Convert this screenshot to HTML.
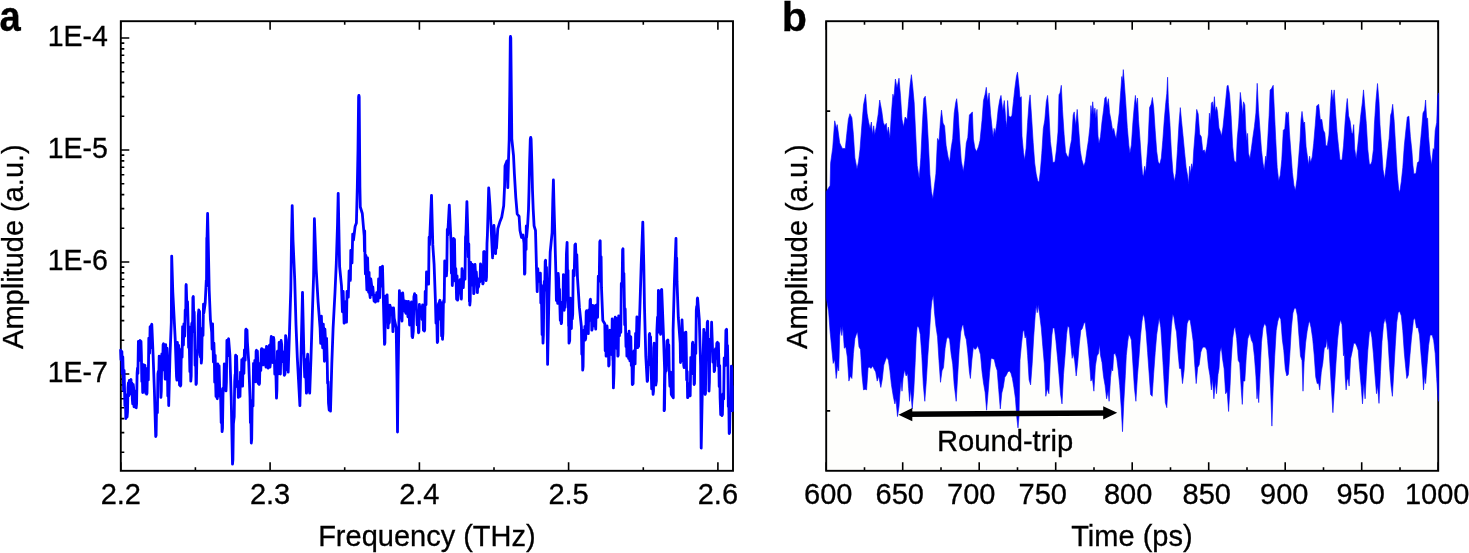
<!DOCTYPE html>
<html lang="en"><head><meta charset="utf-8"><title>Figure: spectrum and time trace</title>
<style>html,body{margin:0;padding:0;background:#fff;}body{width:1469px;height:553px;overflow:hidden;}svg{display:block;}text{font-family:"Liberation Sans", sans-serif;fill:#000;stroke:#000;stroke-width:0.3px;}</style>
</head><body>
<svg width="1469" height="553" viewBox="0 0 1469 553">
<rect x="0" y="0" width="1469" height="553" fill="#ffffff"/>
<g id="panel-a">
<rect x="120.8" y="21.2" width="612.2" height="449.6" fill="none" stroke="#000" stroke-width="1.9"/>
<path d="M120.8 470.8 v-8.5 M120.8 21.2 v8.5 M195.4 470.8 v-3.5 M195.4 21.2 v3.5 M270.1 470.8 v-8.5 M270.1 21.2 v8.5 M344.7 470.8 v-3.5 M344.7 21.2 v3.5 M419.4 470.8 v-8.5 M419.4 21.2 v8.5 M494.0 470.8 v-3.5 M494.0 21.2 v3.5 M568.6 470.8 v-8.5 M568.6 21.2 v8.5 M643.3 470.8 v-3.5 M643.3 21.2 v3.5 M717.9 470.8 v-8.5 M717.9 21.2 v8.5 M120.8 452.3 h3.5 M120.8 432.6 h3.5 M120.8 418.6 h3.5 M120.8 407.7 h3.5 M120.8 398.8 h3.5 M120.8 391.3 h3.5 M120.8 384.9 h3.5 M120.8 379.1 h3.5 M120.8 374.0 h8.5 M120.8 340.3 h3.5 M120.8 320.6 h3.5 M120.8 306.6 h3.5 M120.8 295.7 h3.5 M120.8 286.8 h3.5 M120.8 279.3 h3.5 M120.8 272.9 h3.5 M120.8 267.1 h3.5 M120.8 262.0 h8.5 M120.8 228.3 h3.5 M120.8 208.6 h3.5 M120.8 194.6 h3.5 M120.8 183.7 h3.5 M120.8 174.8 h3.5 M120.8 167.3 h3.5 M120.8 160.9 h3.5 M120.8 155.1 h3.5 M120.8 150.0 h8.5 M120.8 116.3 h3.5 M120.8 96.6 h3.5 M120.8 82.6 h3.5 M120.8 71.7 h3.5 M120.8 62.8 h3.5 M120.8 55.3 h3.5 M120.8 48.9 h3.5 M120.8 43.1 h3.5 M120.8 38.0 h8.5" fill="none" stroke="#000" stroke-width="1.6"/>
<path d="M120.6 350.2 L121.0 359.6 L121.5 351.2 L121.9 351.8 L122.3 373.6 L122.8 356.9 L123.2 371.4 L123.6 390.6 L124.1 370.5 L124.5 387.7 L124.9 405.6 L125.4 394.6 L125.8 418.6 L126.2 417.6 L126.7 405.0 L127.1 417.0 L127.5 412.2 L128.0 387.7 L128.4 382.8 L128.8 395.8 L129.3 380.5 L129.7 390.9 L130.1 393.9 L130.6 380.5 L131.0 379.5 L131.4 393.2 L131.9 383.1 L132.3 399.0 L132.7 403.9 L133.2 384.3 L133.6 387.7 L134.0 406.8 L134.5 391.0 L134.9 402.3 L135.3 406.8 L135.8 395.3 L136.2 407.8 L136.6 403.5 L137.1 373.2 L137.5 368.1 L137.9 373.6 L138.4 341.5 L138.8 351.8 L139.2 357.3 L139.7 341.5 L140.1 340.5 L140.5 360.5 L141.0 341.5 L141.4 355.1 L141.8 381.4 L142.3 372.0 L142.7 392.5 L143.1 391.1 L143.6 364.7 L144.0 364.9 L144.4 383.3 L144.9 365.3 L145.3 381.1 L145.7 393.2 L146.2 375.3 L146.6 394.2 L147.0 393.2 L147.5 368.4 L147.9 371.4 L148.3 379.9 L148.8 338.2 L149.2 345.3 L149.6 353.2 L150.1 326.7 L150.5 338.8 L150.9 347.7 L151.4 325.2 L151.8 324.2 L153.1 355.1 L154.4 390.9 L155.7 436.5 L156.1 435.5 L156.6 404.3 L157.0 403.9 L157.4 412.7 L157.9 374.0 L158.3 371.4 L158.7 378.9 L159.2 356.1 L159.6 356.7 L160.0 379.0 L160.5 370.3 L160.9 397.4 L161.3 390.9 L161.8 354.0 L162.2 355.1 L162.6 368.1 L163.1 344.7 L163.5 343.7 L163.9 369.9 L164.4 348.8 L164.8 368.1 L165.2 379.2 L165.7 344.7 L166.1 353.5 L166.5 371.7 L167.0 348.2 L167.4 364.9 L167.8 396.1 L168.3 372.7 L168.7 405.6 L170.0 355.1 L171.3 322.6 L171.7 256.1 L172.8 292.0 L175.2 338.8 L176.5 376.3 L176.9 380.2 L177.4 342.5 L177.8 348.6 L178.2 362.7 L178.7 345.5 L179.1 368.1 L179.5 385.0 L180.0 360.2 L180.4 386.0 L180.8 385.0 L181.3 350.7 L181.7 348.6 L182.1 357.3 L182.6 326.6 L183.0 338.8 L183.4 345.0 L183.9 323.8 L184.3 335.6 L184.7 336.1 L185.2 309.9 L185.6 309.5 L185.8 308.9 L186.0 285.5 L186.2 284.5 L186.9 306.7 L187.5 301.6 L188.2 325.8 L188.6 347.4 L189.1 327.0 L189.5 355.1 L189.9 371.6 L190.4 359.5 L190.8 381.1 L191.2 375.8 L191.7 324.2 L192.1 322.6 L192.5 331.5 L192.9 297.5 L193.3 296.5 L193.8 321.0 L194.2 312.1 L194.7 338.8 L195.1 365.4 L195.6 350.6 L196.0 384.4 L196.4 383.4 L196.9 356.2 L197.3 355.1 L197.8 349.4 L198.3 315.4 L198.8 310.0 L199.2 327.3 L199.6 311.5 L200.0 332.3 L200.4 357.0 L200.9 342.4 L201.3 363.2 L201.7 358.9 L202.2 328.4 L202.6 329.1 L203.0 335.4 L203.5 304.1 L203.9 312.8 L205.2 303.0 L206.3 280.0 L206.5 286.0 L206.8 237.8 L207.0 240.0 L207.6 213.5 L208.3 245.0 L209.2 290.0 L210.4 319.3 L211.7 332.3 L212.1 349.1 L212.6 323.9 L213.0 342.1 L213.4 362.0 L213.9 343.1 L214.3 355.1 L214.7 382.2 L215.2 355.3 L215.6 381.1 L216.0 396.4 L216.5 374.7 L216.9 397.4 L217.3 398.7 L217.8 363.9 L218.2 364.9 L218.6 378.5 L219.1 365.9 L219.5 381.1 L219.9 396.4 L220.4 388.4 L220.8 403.9 L221.2 422.7 L221.7 413.2 L222.1 431.6 L222.5 428.4 L223.0 395.0 L223.4 387.7 L223.8 387.1 L224.3 363.8 L224.7 364.9 L225.1 381.7 L225.6 370.5 L226.0 390.9 L226.4 382.1 L226.9 340.5 L227.3 342.1 L227.7 355.8 L228.2 339.8 L228.6 338.8 L229.9 355.1 L231.2 397.4 L232.5 464.2 L232.9 459.9 L233.4 423.8 L233.8 420.2 L234.2 416.8 L234.7 381.6 L235.1 374.6 L235.3 386.0 L235.5 356.1 L235.7 355.1 L236.1 373.4 L236.6 356.1 L237.0 371.4 L237.4 387.2 L237.9 381.2 L238.3 397.4 L238.7 396.4 L239.2 381.7 L239.6 387.7 L240.0 396.4 L240.5 372.2 L240.9 374.6 L241.3 382.2 L241.8 359.6 L242.2 377.9 L242.6 386.2 L243.1 358.3 L243.5 361.6 L243.9 373.4 L244.4 350.0 L244.8 355.1 L245.2 360.2 L245.7 330.1 L246.1 329.1 L246.5 351.4 L247.0 330.1 L247.4 342.1 L248.7 361.6 L250.0 397.4 L250.4 422.7 L250.9 415.8 L251.3 443.0 L251.7 439.2 L252.2 400.3 L252.6 403.9 L253.0 405.9 L253.5 363.3 L253.9 368.1 L254.3 380.4 L254.8 360.5 L255.2 371.4 L255.6 381.8 L256.1 351.2 L256.5 350.2 L256.9 368.0 L257.4 351.2 L257.8 364.9 L258.2 383.4 L258.7 365.3 L259.1 384.4 L259.5 383.4 L260.0 363.3 L260.4 368.1 L260.8 370.4 L261.3 349.7 L261.7 348.6 L262.1 359.5 L262.6 351.4 L263.0 364.9 L263.4 364.3 L263.9 349.6 L264.3 350.2 L264.7 363.0 L265.2 354.7 L265.6 364.9 L266.0 367.1 L266.5 346.3 L266.9 348.6 L267.3 364.3 L267.8 355.8 L268.2 368.1 L268.6 367.1 L269.1 346.4 L269.5 345.3 L270.0 367.2 L270.4 363.4 L270.9 340.4 L271.3 336.3 L271.7 355.0 L272.2 337.3 L272.6 347.7 L273.0 362.7 L273.5 337.3 L273.9 339.5 L274.8 374.2 L275.6 361.0 L276.5 398.1 L276.9 390.5 L277.4 351.5 L277.8 350.9 L278.5 373.8 L279.1 342.5 L279.8 363.9 L280.4 374.0 L281.1 340.5 L281.7 344.4 L282.6 361.6 L283.4 351.8 L284.3 375.3 L285.0 373.9 L285.6 335.6 L286.3 339.5 L286.9 369.7 L287.6 349.0 L288.2 372.1 L289.5 331.4 L290.8 289.1 L291.5 240.0 L292.2 205.6 L293.0 240.0 L294.7 279.3 L296.0 324.9 L297.3 357.4 L299.9 405.6 L301.2 347.7 L302.5 292.3 L303.8 350.9 L304.7 377.0 L305.5 359.7 L306.4 393.2 L306.8 392.2 L307.3 358.3 L307.7 354.2 L308.4 375.6 L309.0 371.1 L309.7 393.2 L311.0 357.4 L312.3 315.1 L313.6 276.0 L314.4 218.7 L316.2 269.5 L318.1 302.1 L320.1 328.1 L320.7 343.4 L321.4 316.2 L322.0 336.3 L322.7 347.8 L323.3 324.1 L324.0 344.4 L324.4 361.3 L324.9 329.1 L325.3 336.3 L325.9 355.8 L326.6 338.4 L327.2 360.7 L327.6 383.3 L328.1 381.5 L328.5 403.0 L329.2 410.1 L329.8 393.1 L330.5 411.1 L331.8 363.9 L333.1 328.1 L335.0 292.3 L336.3 263.0 L337.5 225.0 L338.2 193.3 L338.9 230.0 L339.6 266.3 L341.5 285.8 L342.4 311.8 L343.2 291.5 L344.1 323.2 L344.8 322.2 L345.4 301.9 L346.1 318.4 L346.5 322.2 L347.0 291.5 L347.4 292.3 L348.3 297.1 L349.1 270.8 L350.0 276.0 L350.4 280.4 L350.8 250.3 L351.2 259.0 L352.0 263.0 L352.7 234.1 L353.5 240.0 L355.1 226.5 L356.4 223.0 L357.3 187.4 L358.0 150.0 L358.6 97.0 L358.9 95.3 L359.2 97.0 L359.6 150.0 L359.9 187.0 L360.3 207.0 L362.3 213.5 L364.2 236.0 L364.5 251.4 L364.7 230.9 L365.0 256.5 L365.4 273.9 L365.9 255.5 L366.3 274.4 L366.9 289.9 L367.6 258.0 L368.2 277.7 L368.6 292.3 L369.1 272.5 L369.5 292.3 L370.2 297.5 L370.8 278.9 L371.5 284.2 L372.1 294.5 L372.8 286.9 L373.4 293.9 L374.1 301.1 L374.7 295.5 L375.4 302.1 L376.0 301.1 L376.7 292.7 L377.3 300.5 L378.0 301.1 L378.6 278.8 L379.3 282.6 L379.7 297.8 L380.2 267.3 L380.6 279.3 L381.2 286.1 L381.9 267.3 L382.5 266.3 L384.5 344.4 L384.9 342.9 L385.4 296.2 L385.8 297.2 L386.4 311.4 L387.1 294.9 L387.7 315.1 L388.1 327.9 L388.6 310.0 L389.0 323.2 L389.4 322.2 L389.9 305.1 L390.3 307.0 L391.0 314.4 L391.6 308.0 L392.3 310.2 L392.9 331.6 L393.6 308.0 L394.2 318.4 L396.2 328.1 L397.0 380.0 L397.5 432.0 L398.0 380.0 L398.8 328.1 L399.4 290.7 L400.1 313.6 L400.7 293.4 L401.4 315.1 L402.0 321.0 L402.7 292.9 L403.3 300.5 L404.0 310.8 L404.6 300.8 L405.3 311.8 L405.9 313.2 L406.6 301.5 L407.2 303.7 L407.9 316.8 L408.5 301.5 L409.2 315.1 L409.6 325.0 L410.1 304.7 L410.5 303.7 L410.9 324.9 L411.4 302.0 L411.8 328.1 L412.1 336.6 L412.3 326.3 L412.6 337.6 L413.3 331.0 L413.9 296.9 L414.6 293.7 L415.2 306.4 L415.9 295.1 L416.5 310.0 L417.2 324.9 L417.8 310.6 L418.5 332.8 L418.9 331.8 L419.4 304.5 L419.8 313.2 L420.4 316.0 L421.1 307.7 L421.7 306.7 L422.1 319.5 L422.6 304.9 L423.0 313.2 L423.4 330.1 L423.9 305.6 L424.3 331.1 L424.7 330.1 L425.2 291.5 L425.6 300.2 L426.0 304.7 L426.5 272.0 L426.9 277.4 L428.2 274.2 L428.6 284.2 L429.1 237.2 L429.5 244.9 L431.5 195.4 L432.8 244.9 L434.1 264.4 L435.4 300.2 L436.0 323.2 L436.7 315.6 L437.3 342.5 L437.7 341.5 L438.2 305.5 L438.6 303.5 L439.0 310.9 L439.5 301.2 L439.9 300.2 L440.3 319.0 L440.8 302.3 L441.2 313.2 L441.6 335.9 L442.1 317.8 L442.5 339.3 L442.9 333.6 L443.4 302.3 L443.8 300.2 L444.2 302.3 L444.7 260.9 L445.1 261.1 L446.4 275.8 L446.8 270.1 L447.3 229.3 L447.7 235.1 L449.3 205.2 L451.0 241.6 L451.4 273.2 L451.9 251.2 L452.3 285.6 L452.7 278.3 L453.2 244.1 L453.6 238.4 L454.0 254.4 L454.5 239.4 L454.9 264.4 L455.3 281.2 L455.8 268.7 L456.2 283.9 L456.6 299.2 L457.1 276.0 L457.5 300.2 L457.9 299.2 L458.4 280.6 L458.8 282.3 L459.4 289.8 L460.1 279.7 L460.7 292.1 L461.4 299.2 L462.0 268.6 L462.7 280.7 L463.3 287.7 L464.0 270.9 L464.6 277.4 L465.0 279.2 L465.5 237.1 L465.9 235.1 L466.9 201.6 L467.9 235.1 L468.3 256.9 L468.8 244.0 L469.2 277.4 L469.4 301.6 L469.6 278.4 L469.8 305.1 L470.2 300.8 L470.7 262.5 L471.1 267.7 L471.5 273.3 L472.0 265.4 L472.4 264.4 L472.8 285.1 L473.3 274.0 L473.7 293.7 L474.1 292.7 L474.6 265.4 L475.0 264.4 L475.7 277.3 L476.3 271.9 L477.0 283.9 L477.4 292.7 L477.9 279.9 L478.3 287.2 L478.7 286.2 L479.2 278.6 L479.6 280.7 L480.0 281.6 L480.5 263.8 L480.9 266.0 L481.5 280.2 L482.2 269.6 L482.8 283.9 L483.2 282.9 L483.7 251.8 L484.1 251.4 L484.8 274.4 L485.4 261.5 L486.1 280.7 L486.5 277.0 L487.0 243.4 L487.4 235.1 L488.7 187.9 L490.0 205.8 L491.3 231.8 L492.6 257.9 L493.9 225.3 L495.2 244.9 L495.6 253.7 L496.1 241.6 L496.5 248.1 L497.8 228.6 L499.8 222.1 L501.7 217.2 L503.7 205.8 L504.6 185.8 L505.0 166.0 L506.9 161.0 L507.8 187.7 L508.5 160.0 L509.2 139.0 L509.8 90.0 L510.3 38.0 L510.5 36.4 L510.8 38.0 L511.3 90.0 L511.8 139.0 L513.5 155.3 L514.4 174.0 L515.8 197.6 L517.2 214.0 L519.1 216.4 L520.0 230.5 L521.5 237.5 L523.0 235.0 L524.0 243.0 L524.5 274.2 L524.9 273.2 L525.4 238.7 L525.8 241.6 L526.1 249.6 L526.3 225.9 L526.6 237.5 L527.6 225.8 L528.5 209.3 L529.0 190.5 L529.6 162.3 L530.3 139.0 L530.7 137.3 L531.1 139.0 L531.9 165.0 L532.5 190.5 L533.2 209.3 L534.1 225.8 L535.5 230.5 L536.5 268.4 L537.2 291.6 L537.8 268.7 L538.5 281.4 L540.4 273.2 L540.8 303.0 L541.3 285.5 L541.7 310.7 L542.1 334.7 L542.6 314.5 L543.0 343.2 L543.4 334.8 L543.9 289.0 L544.3 281.4 L544.7 290.2 L545.2 261.2 L545.6 260.2 L546.0 283.9 L546.5 267.3 L546.9 297.7 L547.6 364.4 L548.9 297.7 L550.2 252.1 L552.1 232.6 L552.8 200.0 L553.4 180.0 L554.0 205.0 L554.7 229.3 L556.0 278.1 L556.4 300.6 L556.9 275.9 L557.3 297.7 L557.7 303.4 L558.2 273.4 L558.6 278.1 L559.0 295.1 L559.5 289.1 L559.9 307.4 L560.3 320.4 L560.8 302.2 L561.2 323.7 L561.6 322.7 L562.1 304.2 L562.5 307.4 L562.9 307.9 L563.4 274.6 L563.8 284.6 L564.2 310.3 L564.7 284.1 L565.1 307.4 L565.8 296.5 L566.4 254.4 L567.1 242.3 L567.5 273.4 L568.0 270.3 L568.4 304.2 L568.6 326.0 L568.8 317.3 L569.0 343.2 L569.7 340.6 L570.3 298.2 L571.0 304.2 L571.4 328.5 L571.9 299.9 L572.3 318.8 L572.7 314.4 L573.2 270.5 L573.6 274.9 L574.2 275.6 L574.9 244.9 L575.5 243.9 L576.2 262.1 L576.8 254.6 L577.5 278.1 L579.4 307.4 L581.4 327.0 L581.8 354.3 L582.3 342.1 L582.7 370.2 L583.1 366.5 L583.6 330.4 L584.0 330.2 L584.4 340.4 L584.9 326.3 L585.3 340.0 L585.7 338.4 L586.2 311.7 L586.6 310.7 L587.0 323.6 L587.5 317.3 L587.9 330.2 L588.3 333.7 L588.8 309.8 L589.2 312.3 L589.6 317.5 L590.1 300.3 L590.5 299.3 L590.9 320.4 L591.4 309.6 L591.8 330.2 L592.2 329.2 L592.7 305.4 L593.1 310.7 L593.7 325.8 L594.4 306.0 L595.0 320.4 L595.7 329.2 L596.3 305.1 L597.0 310.7 L597.6 317.3 L598.3 276.2 L598.9 281.4 L599.3 275.5 L599.8 241.7 L600.2 240.7 L600.6 274.7 L601.1 256.8 L601.5 287.9 L602.8 320.4 L604.8 323.7 L605.2 350.8 L605.7 327.8 L606.1 356.2 L606.5 356.1 L607.0 325.8 L607.4 330.2 L607.8 354.1 L608.3 338.0 L608.7 366.0 L609.1 365.0 L609.6 331.2 L610.0 330.2 L610.4 348.9 L610.9 331.2 L611.3 343.2 L611.7 354.6 L612.2 318.8 L612.6 330.2 L612.9 359.1 L613.1 361.0 L613.4 387.9 L614.0 373.2 L614.6 329.7 L615.2 317.2 L615.6 327.6 L616.1 318.2 L616.5 323.7 L616.9 348.5 L617.4 330.1 L617.8 356.2 L618.2 355.2 L618.7 315.8 L619.1 318.8 L619.5 335.8 L620.0 319.4 L620.4 330.2 L620.8 332.3 L621.3 283.5 L621.7 284.6 L622.1 286.2 L622.6 249.8 L623.0 248.8 L623.4 280.4 L623.9 273.3 L624.3 297.7 L624.7 324.8 L625.2 309.0 L625.6 330.2 L626.0 346.7 L626.5 337.0 L626.9 356.2 L627.3 355.2 L627.8 333.8 L628.2 336.7 L628.6 358.5 L629.1 331.2 L629.5 353.0 L629.9 360.9 L630.4 337.7 L630.8 336.7 L631.3 365.6 L631.8 352.6 L632.3 384.6 L633.1 383.6 L633.9 351.0 L634.7 356.2 L635.1 363.9 L635.6 333.3 L636.0 333.5 L636.4 339.1 L636.9 316.8 L637.3 323.7 L637.7 347.7 L638.2 327.9 L638.6 346.5 L639.9 307.4 L641.2 265.1 L642.8 222.1 L643.8 265.1 L644.5 307.4 L645.8 356.2 L647.2 381.4 L647.6 380.4 L648.1 363.6 L648.5 365.1 L648.9 362.4 L649.3 334.5 L649.7 333.5 L650.1 358.7 L650.6 337.0 L651.0 362.8 L651.7 388.9 L652.4 373.0 L653.1 394.4 L653.5 391.1 L653.8 347.7 L654.2 343.2 L654.7 369.9 L655.3 362.3 L655.8 385.0 L656.4 381.1 L656.9 330.8 L657.5 317.2 L657.9 332.4 L658.4 290.5 L658.8 304.2 L659.2 319.9 L659.7 308.5 L660.1 330.2 L660.6 334.3 L661.2 290.5 L661.7 289.5 L663.3 330.2 L664.6 369.3 L664.1 410.7 L664.5 409.7 L665.0 374.5 L665.4 371.6 L666.2 370.8 L667.0 341.0 L667.9 340.0 L668.3 359.3 L668.8 344.9 L669.2 369.3 L669.9 386.3 L670.6 372.2 L671.3 394.4 L673.3 397.7 L673.1 330.2 L674.4 281.4 L676.0 238.4 L676.3 271.8 L676.7 258.1 L677.0 281.4 L678.3 317.2 L680.2 343.2 L680.5 362.5 L680.8 333.4 L681.1 348.8 L681.5 360.7 L682.0 319.9 L682.4 329.3 L682.8 348.6 L683.3 338.9 L683.7 365.1 L684.1 367.6 L684.6 336.4 L685.0 332.6 L685.4 346.0 L685.9 332.2 L686.3 352.1 L686.7 379.9 L687.2 371.4 L687.6 397.7 L688.2 396.7 L688.9 384.2 L689.5 394.4 L690.2 395.7 L690.8 357.3 L691.5 365.1 L691.9 364.5 L692.4 343.3 L692.8 342.3 L693.2 374.0 L693.7 361.7 L694.1 384.6 L694.5 383.6 L695.0 344.9 L695.4 348.8 L695.8 353.4 L696.3 310.2 L696.7 306.5 L697.0 315.4 L697.3 299.0 L697.6 298.0 L699.3 319.5 L700.6 365.1 L701.2 448.1 L702.5 381.4 L703.8 329.3 L705.1 394.4 L705.5 393.4 L706.0 339.1 L706.4 332.6 L706.8 340.4 L707.3 322.2 L707.7 321.2 L708.1 354.7 L708.6 359.8 L709.0 391.1 L709.4 382.2 L709.9 339.1 L710.3 339.1 L711.0 350.8 L711.6 322.2 L712.3 342.3 L712.9 362.1 L713.6 351.3 L714.2 371.6 L714.6 370.6 L715.1 350.1 L715.5 348.8 L716.2 358.4 L716.8 343.3 L717.5 342.3 L717.9 366.0 L718.4 343.3 L718.8 358.6 L719.2 386.6 L719.7 365.7 L720.1 397.7 L720.7 414.6 L721.4 395.5 L722.0 415.6 L722.4 414.6 L722.9 394.0 L723.3 394.4 L723.7 398.9 L724.2 358.0 L724.6 358.6 L725.3 365.5 L725.9 330.3 L726.6 329.3 L727.0 351.7 L727.5 345.4 L727.9 365.1 L728.3 406.5 L728.8 401.7 L729.2 433.5 L729.6 432.5 L730.1 404.9 L730.5 407.4 L730.9 405.3 L731.4 366.1 L731.8 368.4 L732.0 401.9 L732.2 386.0 L732.4 410.7" fill="none" stroke="#0000ff" stroke-width="2.8" stroke-linejoin="round" stroke-linecap="round"/>
<text transform="translate(120.8 504.4) scale(1 1.04)" font-size="29.0" text-anchor="middle">2.2</text>
<text transform="translate(270.1 504.4) scale(1 1.04)" font-size="29.0" text-anchor="middle">2.3</text>
<text transform="translate(419.3 504.4) scale(1 1.04)" font-size="29.0" text-anchor="middle">2.4</text>
<text transform="translate(568.6 504.4) scale(1 1.04)" font-size="29.0" text-anchor="middle">2.5</text>
<text transform="translate(717.9 504.4) scale(1 1.04)" font-size="29.0" text-anchor="middle">2.6</text>
<text transform="translate(107.9 46.1) scale(1 1.04)" font-size="28.5" text-anchor="end">1E-4</text>
<text transform="translate(107.9 158.1) scale(1 1.04)" font-size="28.5" text-anchor="end">1E-5</text>
<text transform="translate(107.9 270.1) scale(1 1.04)" font-size="28.5" text-anchor="end">1E-6</text>
<text transform="translate(107.9 382.1) scale(1 1.04)" font-size="28.5" text-anchor="end">1E-7</text>
<text transform="translate(426.9 546.0) scale(1 1.04)" font-size="29.0" text-anchor="middle">Frequency (THz)</text>
<text transform="translate(23.4 246.6) rotate(-90) scale(1 1.04)" font-size="29.0" text-anchor="middle">Amplitude (a.u.)</text>
<text transform="translate(-0.6 31.2) scale(0.91 1.02)" font-size="42" font-weight="bold">a</text>
</g>
<g id="panel-b">
<rect x="826.2" y="21.2" width="612.0" height="449.6" fill="#fefefc"/>
<rect x="826.2" y="21.2" width="612.0" height="449.6" fill="none" stroke="#000" stroke-width="1.9"/>
<path d="M826.2 470.8 v-8.5 M826.2 21.2 v8.5 M864.5 470.8 v-3.5 M864.5 21.2 v3.5 M902.7 470.8 v-8.5 M902.7 21.2 v8.5 M941.0 470.8 v-3.5 M941.0 21.2 v3.5 M979.2 470.8 v-8.5 M979.2 21.2 v8.5 M1017.5 470.8 v-3.5 M1017.5 21.2 v3.5 M1055.7 470.8 v-8.5 M1055.7 21.2 v8.5 M1094.0 470.8 v-3.5 M1094.0 21.2 v3.5 M1132.2 470.8 v-8.5 M1132.2 21.2 v8.5 M1170.5 470.8 v-3.5 M1170.5 21.2 v3.5 M1208.7 470.8 v-8.5 M1208.7 21.2 v8.5 M1247.0 470.8 v-3.5 M1247.0 21.2 v3.5 M1285.2 470.8 v-8.5 M1285.2 21.2 v8.5 M1323.5 470.8 v-3.5 M1323.5 21.2 v3.5 M1361.7 470.8 v-8.5 M1361.7 21.2 v8.5 M1400.0 470.8 v-3.5 M1400.0 21.2 v3.5 M1438.2 470.8 v-8.5 M1438.2 21.2 v8.5 M826.2 111.1 h4 M826.2 410.9 h4" fill="none" stroke="#000" stroke-width="1.6"/>
<path d="M826.2 191.6 L830.1 185.4 L830.6 163.2 L832.7 147.9 L834.7 120.8 L836.5 128.4 L837.2 124.6 L839.7 142.9 L842.3 148.4 L845.3 148.6 L846.8 133.7 L848.4 119.2 L849.9 113.7 L851.9 117.8 L853.4 134.3 L854.9 157.9 L857.0 168.9 L858.5 161.8 L860.0 149.5 L861.8 125.8 L863.5 105.0 L865.6 94.2 L867.1 113.3 L868.6 122.0 L870.1 128.4 L871.4 122.0 L872.4 134.7 L873.7 125.8 L874.7 134.7 L876.2 127.3 L878.2 114.2 L879.7 100.0 L881.8 111.2 L883.3 122.5 L884.8 125.8 L886.3 123.3 L887.3 133.4 L888.4 127.1 L889.9 138.5 L891.4 113.6 L892.9 94.2 L893.9 98.0 L895.4 79.0 L897.0 87.8 L899.0 78.2 L900.5 95.8 L902.0 119.2 L903.5 127.1 L905.1 117.0 L907.1 119.5 L908.6 101.6 L910.1 84.6 L911.4 74.7 L912.7 86.3 L914.2 103.0 L915.7 134.0 L917.2 165.4 L919.2 178.5 L920.8 157.7 L922.3 125.7 L923.8 98.4 L925.3 96.2 L926.8 113.9 L928.4 143.1 L929.9 174.4 L931.4 191.6 L932.9 198.7 L934.4 186.1 L935.9 173.7 L937.5 138.5 L939.0 141.0 L940.5 119.9 L941.5 110.1 L943.0 123.1 L944.6 126.0 L946.1 145.3 L948.1 156.9 L949.6 162.5 L951.1 148.5 L952.7 138.6 L954.2 113.2 L955.7 102.6 L956.7 98.7 L958.2 113.3 L959.7 139.1 L961.3 161.1 L963.3 171.4 L964.8 160.6 L966.3 143.0 L967.8 137.4 L969.4 115.0 L970.9 113.5 L972.4 111.9 L973.4 139.1 L974.9 148.2 L976.5 151.6 L978.5 146.8 L980.0 140.6 L982.0 120.6 L983.5 100.4 L985.1 94.2 L986.3 87.3 L987.6 101.8 L989.1 92.9 L990.6 113.8 L992.2 129.1 L993.2 137.2 L994.2 128.4 L995.2 133.4 L996.7 123.8 L998.2 109.1 L999.7 100.1 L1001.0 95.4 L1002.8 110.6 L1004.3 100.5 L1005.8 120.3 L1006.8 127.1 L1007.6 100.5 L1008.9 116.3 L1010.4 117.0 L1011.9 115.7 L1013.4 101.7 L1014.9 87.9 L1016.5 75.9 L1017.5 72.2 L1019.0 86.1 L1020.0 98.0 L1021.3 96.7 L1022.0 136.0 L1023.5 152.6 L1024.6 160.0 L1026.1 148.3 L1027.6 122.6 L1029.1 101.8 L1030.1 94.9 L1031.6 117.1 L1033.2 142.7 L1034.7 163.0 L1036.2 173.9 L1037.7 180.8 L1039.0 182.3 L1040.3 171.8 L1041.8 153.2 L1043.3 128.7 L1044.8 120.0 L1046.3 101.7 L1047.6 95.4 L1048.9 113.8 L1050.4 141.4 L1051.9 153.1 L1052.9 162.5 L1054.9 162.1 L1056.5 149.1 L1058.0 132.0 L1059.0 94.7 L1060.0 93.1 L1061.3 85.3 L1062.5 109.7 L1064.1 134.3 L1065.6 152.2 L1067.1 155.7 L1068.6 157.5 L1070.1 147.1 L1071.6 139.6 L1073.2 115.0 L1074.2 111.9 L1075.7 125.8 L1077.2 109.4 L1078.7 129.1 L1080.3 150.7 L1081.8 159.7 L1083.8 166.3 L1085.3 161.8 L1086.8 151.0 L1088.4 140.7 L1089.9 126.9 L1090.9 105.6 L1091.9 114.4 L1092.7 101.8 L1093.9 114.4 L1094.9 108.1 L1095.9 118.2 L1097.0 109.4 L1098.0 136.0 L1099.0 143.5 L1100.5 136.6 L1102.0 121.8 L1103.5 110.5 L1104.8 98.3 L1106.1 96.7 L1107.1 105.6 L1108.4 98.7 L1109.6 112.8 L1111.1 120.8 L1112.7 130.9 L1113.7 128.4 L1115.2 135.5 L1116.2 138.5 L1117.7 125.6 L1119.2 113.1 L1120.8 90.3 L1121.8 76.5 L1122.5 81.5 L1123.3 69.6 L1124.3 82.8 L1125.8 103.4 L1127.3 127.6 L1128.9 145.7 L1129.9 153.2 L1131.4 144.9 L1132.9 122.3 L1134.4 104.7 L1135.4 95.4 L1136.5 105.6 L1137.5 98.0 L1138.5 119.5 L1140.0 139.4 L1141.5 162.0 L1142.5 173.9 L1143.5 176.5 L1144.6 166.3 L1145.6 172.7 L1146.6 161.4 L1148.1 141.9 L1149.6 107.5 L1151.1 104.3 L1152.4 97.5 L1153.7 107.5 L1155.2 130.8 L1156.7 151.2 L1158.2 162.1 L1159.7 164.3 L1161.3 158.0 L1162.8 140.5 L1164.3 119.6 L1165.8 102.4 L1166.8 93.4 L1167.6 77.2 L1168.4 102.5 L1169.9 122.9 L1171.4 152.0 L1172.9 172.1 L1174.4 181.5 L1175.9 173.4 L1177.5 149.3 L1179.0 123.7 L1180.3 107.6 L1181.5 120.6 L1183.0 135.5 L1184.6 152.2 L1186.1 167.3 L1187.6 176.0 L1188.6 184.1 L1189.6 166.3 L1190.6 173.9 L1191.6 163.8 L1192.7 168.9 L1193.7 151.0 L1195.2 132.1 L1196.7 109.4 L1198.2 114.1 L1199.7 134.2 L1201.3 136.8 L1202.8 151.1 L1204.3 149.9 L1205.3 153.7 L1206.8 146.5 L1208.4 134.0 L1209.4 113.2 L1210.4 120.8 L1211.4 103.3 L1212.4 101.8 L1213.4 109.4 L1214.4 96.7 L1215.4 111.9 L1216.5 106.8 L1217.5 111.5 L1219.0 128.1 L1220.0 130.6 L1221.5 135.9 L1223.0 127.0 L1225.1 106.4 L1227.1 85.9 L1228.1 85.3 L1229.6 94.7 L1231.1 115.5 L1232.7 146.9 L1234.2 160.7 L1236.2 162.5 L1237.2 139.1 L1238.7 123.0 L1240.3 92.4 L1241.8 104.7 L1242.8 114.4 L1243.5 101.8 L1244.8 104.9 L1245.8 129.0 L1246.8 141.0 L1247.6 133.4 L1248.4 153.1 L1249.9 158.7 L1251.4 148.5 L1252.9 137.0 L1254.4 126.8 L1255.9 112.9 L1257.2 83.3 L1258.5 110.2 L1260.0 130.0 L1261.5 150.3 L1263.0 163.2 L1264.3 170.1 L1265.6 156.2 L1266.3 161.3 L1267.6 142.0 L1269.1 115.5 L1270.1 90.0 L1271.6 88.4 L1273.2 85.3 L1274.2 106.9 L1275.7 138.4 L1277.2 167.7 L1278.7 181.0 L1280.3 175.1 L1281.8 159.4 L1283.3 130.3 L1284.8 128.8 L1286.1 111.9 L1287.3 114.4 L1288.4 111.9 L1289.4 132.0 L1290.9 152.0 L1292.4 172.5 L1293.9 185.2 L1295.4 190.4 L1297.0 179.2 L1298.5 160.1 L1300.0 140.7 L1301.0 119.8 L1302.0 111.4 L1303.5 123.3 L1304.6 122.0 L1306.1 146.9 L1307.6 158.0 L1308.6 165.1 L1309.6 156.2 L1310.6 162.5 L1312.2 157.0 L1313.7 143.3 L1315.2 125.5 L1316.7 105.9 L1318.7 104.3 L1320.3 119.5 L1321.8 119.5 L1323.3 130.1 L1324.8 132.9 L1325.8 145.5 L1327.3 146.1 L1328.9 135.1 L1330.4 105.8 L1331.6 89.9 L1332.9 100.5 L1334.2 89.9 L1335.4 108.9 L1337.0 131.4 L1338.5 146.3 L1340.0 160.0 L1342.0 160.0 L1343.5 145.8 L1345.1 122.0 L1346.6 104.1 L1347.3 98.5 L1348.6 115.8 L1350.1 121.1 L1351.6 132.9 L1352.7 133.4 L1353.7 124.6 L1354.7 148.9 L1356.2 158.7 L1357.7 146.1 L1359.2 131.3 L1360.8 114.7 L1362.3 102.9 L1363.5 89.9 L1364.8 105.9 L1366.3 123.4 L1367.8 149.2 L1369.4 164.3 L1370.9 164.2 L1371.9 161.4 L1373.4 149.5 L1374.4 124.2 L1375.9 101.2 L1377.5 83.5 L1379.0 101.3 L1380.0 124.7 L1381.5 146.3 L1383.0 169.4 L1384.6 179.0 L1386.1 166.7 L1387.6 152.2 L1389.1 138.7 L1390.6 115.3 L1391.6 112.1 L1392.7 104.3 L1394.2 121.3 L1395.7 147.5 L1397.2 173.1 L1398.7 189.5 L1399.7 192.4 L1401.3 181.6 L1402.8 167.5 L1404.3 145.7 L1405.8 131.0 L1407.3 117.0 L1407.3 117.0 L1408.9 116.2 L1410.4 136.8 L1411.9 150.7 L1412.9 165.3 L1413.9 173.9 L1415.9 173.5 L1417.5 162.6 L1419.0 161.5 L1420.0 147.0 L1421.5 130.7 L1423.0 113.0 L1424.6 110.0 L1425.6 100.0 L1426.6 118.2 L1427.6 118.2 L1428.6 136.4 L1430.1 154.8 L1431.6 165.1 L1433.2 148.6 L1434.2 149.9 L1435.2 130.5 L1436.7 122.5 L1437.7 96.0 L1438.6 92.9 L1438.6 401.3 L1437.7 394.6 L1436.7 378.6 L1435.2 353.5 L1433.7 340.6 L1432.2 335.0 L1430.1 335.1 L1428.6 345.6 L1427.1 364.3 L1425.6 383.6 L1424.6 376.0 L1423.5 389.9 L1422.5 371.9 L1421.0 354.2 L1419.5 335.1 L1418.0 327.4 L1416.5 327.9 L1414.9 318.3 L1413.4 320.1 L1412.9 325.2 L1411.4 339.0 L1409.9 355.9 L1408.4 375.1 L1406.8 378.5 L1405.8 368.4 L1404.3 352.8 L1402.8 330.7 L1401.3 315.8 L1399.7 311.5 L1398.2 312.2 L1396.7 322.7 L1395.2 346.8 L1393.7 373.2 L1392.4 396.3 L1391.1 386.2 L1389.6 367.2 L1388.1 342.1 L1386.6 324.6 L1385.1 318.3 L1383.5 324.4 L1382.0 341.4 L1380.5 371.6 L1379.0 403.4 L1377.5 386.1 L1376.5 393.7 L1374.9 374.1 L1373.4 353.9 L1371.9 337.6 L1370.6 330.4 L1369.4 332.5 L1367.8 350.8 L1366.3 376.1 L1365.1 398.8 L1363.8 383.6 L1362.5 403.9 L1361.3 387.4 L1359.7 369.6 L1358.2 350.4 L1356.7 345.9 L1355.2 343.1 L1353.7 343.5 L1352.2 351.4 L1350.6 358.7 L1349.1 386.1 L1348.1 378.5 L1347.1 380.0 L1346.1 389.9 L1345.1 375.4 L1344.3 353.2 L1343.5 355.8 L1342.0 324.6 L1340.5 319.8 L1339.0 326.5 L1337.5 340.8 L1335.9 364.1 L1334.4 388.0 L1332.9 412.7 L1331.4 388.4 L1329.9 363.6 L1328.9 345.6 L1327.8 349.4 L1326.8 338.5 L1325.8 347.0 L1324.3 348.0 L1322.8 363.2 L1321.3 372.1 L1319.7 389.9 L1318.7 383.6 L1317.2 383.6 L1315.7 376.8 L1314.2 355.0 L1312.7 338.8 L1311.1 327.8 L1309.6 321.1 L1308.6 323.4 L1307.1 331.4 L1305.6 343.0 L1304.1 362.3 L1303.0 391.2 L1302.0 360.6 L1300.5 356.1 L1299.0 336.5 L1297.5 316.1 L1295.9 308.3 L1294.4 308.2 L1292.9 313.0 L1291.4 328.1 L1289.9 353.3 L1288.4 374.3 L1286.8 376.0 L1285.3 369.2 L1283.8 350.5 L1282.3 339.2 L1280.8 319.4 L1279.2 316.5 L1277.7 321.7 L1276.2 330.7 L1274.7 356.5 L1273.2 387.9 L1271.9 426.1 L1270.6 388.1 L1269.1 359.7 L1267.6 340.6 L1266.1 326.1 L1264.6 323.4 L1263.0 328.0 L1261.5 342.2 L1260.0 375.0 L1258.7 402.6 L1258.0 388.7 L1257.0 398.8 L1255.9 376.1 L1254.4 356.2 L1252.9 343.1 L1251.4 340.1 L1249.9 333.0 L1247.8 338.8 L1246.3 355.9 L1244.8 381.1 L1243.3 381.1 L1242.3 404.4 L1241.3 390.3 L1239.7 363.0 L1238.2 360.3 L1236.7 338.4 L1235.2 327.4 L1234.2 328.3 L1232.7 338.1 L1231.1 361.9 L1230.1 385.3 L1228.6 411.5 L1227.1 391.2 L1225.6 393.7 L1224.1 368.7 L1222.5 358.4 L1221.3 346.9 L1220.0 351.9 L1219.0 368.7 L1218.0 374.4 L1216.5 393.7 L1215.4 381.1 L1213.9 398.8 L1212.4 378.5 L1211.4 389.9 L1209.9 375.3 L1208.4 366.5 L1206.8 350.1 L1205.3 347.3 L1203.8 346.9 L1202.3 347.9 L1200.8 352.3 L1199.2 364.7 L1197.7 367.6 L1196.2 383.6 L1194.7 364.0 L1193.2 341.2 L1191.6 329.4 L1190.1 319.9 L1188.6 319.8 L1187.1 323.7 L1185.6 343.8 L1184.1 370.4 L1182.5 383.6 L1181.0 368.4 L1179.5 368.4 L1178.0 352.1 L1176.5 332.0 L1175.4 327.1 L1173.9 317.0 L1172.7 314.0 L1171.4 326.8 L1169.9 350.7 L1168.4 379.8 L1166.8 407.7 L1165.3 402.6 L1163.8 376.8 L1162.3 351.0 L1160.8 327.8 L1159.2 317.8 L1158.2 324.4 L1156.7 334.8 L1155.2 352.6 L1153.7 373.3 L1152.2 396.3 L1150.6 394.5 L1149.1 373.2 L1147.6 352.4 L1146.1 331.9 L1144.6 318.0 L1143.3 314.0 L1142.0 321.3 L1140.5 336.1 L1139.0 357.3 L1137.5 375.2 L1135.9 401.3 L1134.4 388.0 L1132.9 363.9 L1131.4 340.3 L1130.4 337.0 L1128.9 334.2 L1127.8 341.3 L1126.3 355.6 L1125.3 375.8 L1123.8 402.3 L1122.5 431.7 L1121.3 408.8 L1119.7 385.3 L1118.2 370.2 L1116.7 358.2 L1115.2 353.2 L1113.7 354.5 L1112.7 370.9 L1111.6 368.4 L1110.6 377.5 L1109.1 401.3 L1108.1 391.2 L1106.6 398.8 L1105.1 385.6 L1103.5 376.4 L1102.0 362.4 L1100.5 355.2 L1099.5 344.4 L1098.5 353.5 L1097.0 355.8 L1095.4 366.1 L1093.9 391.2 L1092.4 378.5 L1090.9 381.1 L1089.4 361.6 L1087.8 344.3 L1086.3 332.2 L1085.1 322.3 L1083.8 323.4 L1082.3 328.4 L1080.8 330.4 L1079.2 345.0 L1077.7 362.8 L1076.2 376.0 L1074.7 360.9 L1073.2 353.2 L1072.2 358.3 L1070.6 342.5 L1069.1 327.0 L1067.6 326.6 L1066.6 334.3 L1065.1 355.0 L1063.5 374.8 L1062.0 403.9 L1060.5 393.8 L1059.0 374.9 L1057.5 357.7 L1055.9 340.7 L1054.4 327.9 L1052.9 327.9 L1051.9 335.0 L1050.4 359.3 L1048.9 393.7 L1047.3 388.7 L1045.8 396.3 L1044.3 363.8 L1042.8 346.4 L1041.3 328.1 L1039.7 315.1 L1038.2 305.1 L1037.2 312.7 L1036.2 305.1 L1035.2 315.5 L1033.7 337.0 L1032.2 363.5 L1030.6 384.9 L1029.1 379.8 L1027.6 355.5 L1026.1 335.5 L1025.1 338.0 L1024.1 330.4 L1023.0 331.1 L1021.5 344.1 L1020.0 360.2 L1019.0 416.2 L1018.0 427.9 L1017.0 419.6 L1015.4 398.2 L1013.9 387.4 L1012.4 378.4 L1010.9 373.1 L1009.4 370.9 L1007.8 371.9 L1006.3 375.2 L1004.8 377.3 L1003.3 387.2 L1001.8 393.0 L1000.3 408.9 L998.7 389.5 L997.2 370.6 L995.7 366.0 L994.2 359.2 L992.7 358.7 L991.1 358.3 L989.6 372.8 L988.1 392.4 L986.6 410.2 L985.1 392.2 L983.5 383.0 L982.0 371.6 L980.5 354.8 L979.0 349.2 L977.5 345.6 L976.5 348.2 L974.9 349.4 L973.4 346.9 L971.9 360.0 L970.4 378.5 L969.4 371.9 L967.8 353.2 L966.3 339.7 L964.8 335.1 L963.3 324.9 L962.3 325.3 L960.8 332.0 L959.2 349.9 L957.7 375.4 L956.2 401.3 L954.2 384.9 L952.7 364.1 L951.1 353.8 L949.6 339.6 L948.1 336.8 L946.6 339.1 L945.1 348.3 L943.5 367.6 L942.0 370.8 L940.5 382.3 L939.0 360.9 L937.5 336.8 L935.9 326.0 L934.4 311.4 L933.4 295.0 L931.9 301.0 L930.9 310.3 L929.4 334.0 L927.8 356.5 L926.3 381.3 L924.8 401.3 L923.3 384.8 L921.8 355.3 L920.3 334.4 L918.7 326.9 L917.2 326.6 L916.2 338.0 L915.2 362.3 L913.7 392.4 L912.2 408.9 L910.6 388.7 L909.6 401.3 L908.6 388.6 L907.6 373.5 L906.1 376.0 L904.6 369.7 L903.0 378.8 L902.0 391.2 L901.0 381.1 L900.0 392.4 L899.0 406.6 L897.5 416.5 L895.9 398.8 L894.9 403.9 L893.4 397.1 L891.4 384.6 L889.9 370.8 L888.4 360.2 L886.8 357.0 L885.3 360.7 L883.8 365.1 L882.3 379.2 L880.8 387.4 L878.7 376.0 L877.2 381.1 L875.7 371.9 L874.2 369.3 L872.7 365.9 L871.1 368.4 L869.6 367.2 L868.1 367.6 L866.6 389.9 L865.1 389.2 L863.5 389.9 L862.0 375.1 L860.5 349.4 L859.0 346.9 L857.5 331.7 L856.2 334.8 L854.9 338.7 L853.4 353.5 L851.9 378.5 L850.4 376.0 L848.9 381.1 L847.3 357.0 L845.8 346.9 L844.3 348.2 L842.8 325.9 L841.8 335.5 L840.8 326.6 L839.7 336.0 L838.7 370.9 L837.7 365.9 L836.2 378.5 L834.7 359.6 L833.2 363.4 L831.6 346.9 L830.1 331.7 L828.6 310.9 L826.2 297.5 Z" fill="#0000ff" stroke="#0000ff" stroke-width="0.6" stroke-linejoin="round"/>
<line x1="906" y1="414.3" x2="1110" y2="412.9" stroke="#000" stroke-width="5.5"/>
<polygon points="898.5,414.8 912.3,408.1 912.3,421.3" fill="#000"/>
<polygon points="1117.2,412.7 1103.2,406.2 1103.2,419.4" fill="#000"/>
<text transform="translate(936.9 450.6) scale(1 1.04)" font-size="29.2">Round-trip</text>
<text transform="translate(828.3 504.4) scale(1 1.04)" font-size="29.0" text-anchor="middle">600</text>
<text transform="translate(899.8 504.4) scale(1 1.04)" font-size="29.0" text-anchor="middle">650</text>
<text transform="translate(971.2 504.4) scale(1 1.04)" font-size="29.0" text-anchor="middle">700</text>
<text transform="translate(1042.8 504.4) scale(1 1.04)" font-size="29.0" text-anchor="middle">750</text>
<text transform="translate(1128.1 504.4) scale(1 1.04)" font-size="29.0" text-anchor="middle">800</text>
<text transform="translate(1206.8 504.4) scale(1 1.04)" font-size="29.0" text-anchor="middle">850</text>
<text transform="translate(1284.3 504.4) scale(1 1.04)" font-size="29.0" text-anchor="middle">900</text>
<text transform="translate(1360.6 504.4) scale(1 1.04)" font-size="29.0" text-anchor="middle">950</text>
<text transform="translate(1404.9 504.4) scale(1 1.04)" font-size="29.0">1000</text>
<text transform="translate(1131.9 546.0) scale(1 1.04)" font-size="29.0" text-anchor="middle">Time (ps)</text>
<text transform="translate(807.2 246.6) rotate(-90) scale(1 1.04)" font-size="29.0" text-anchor="middle">Amplitude (a.u.)</text>
<text x="781.7" y="31" font-size="41.3" font-weight="bold">b</text>
</g>
</svg>
</body></html>
